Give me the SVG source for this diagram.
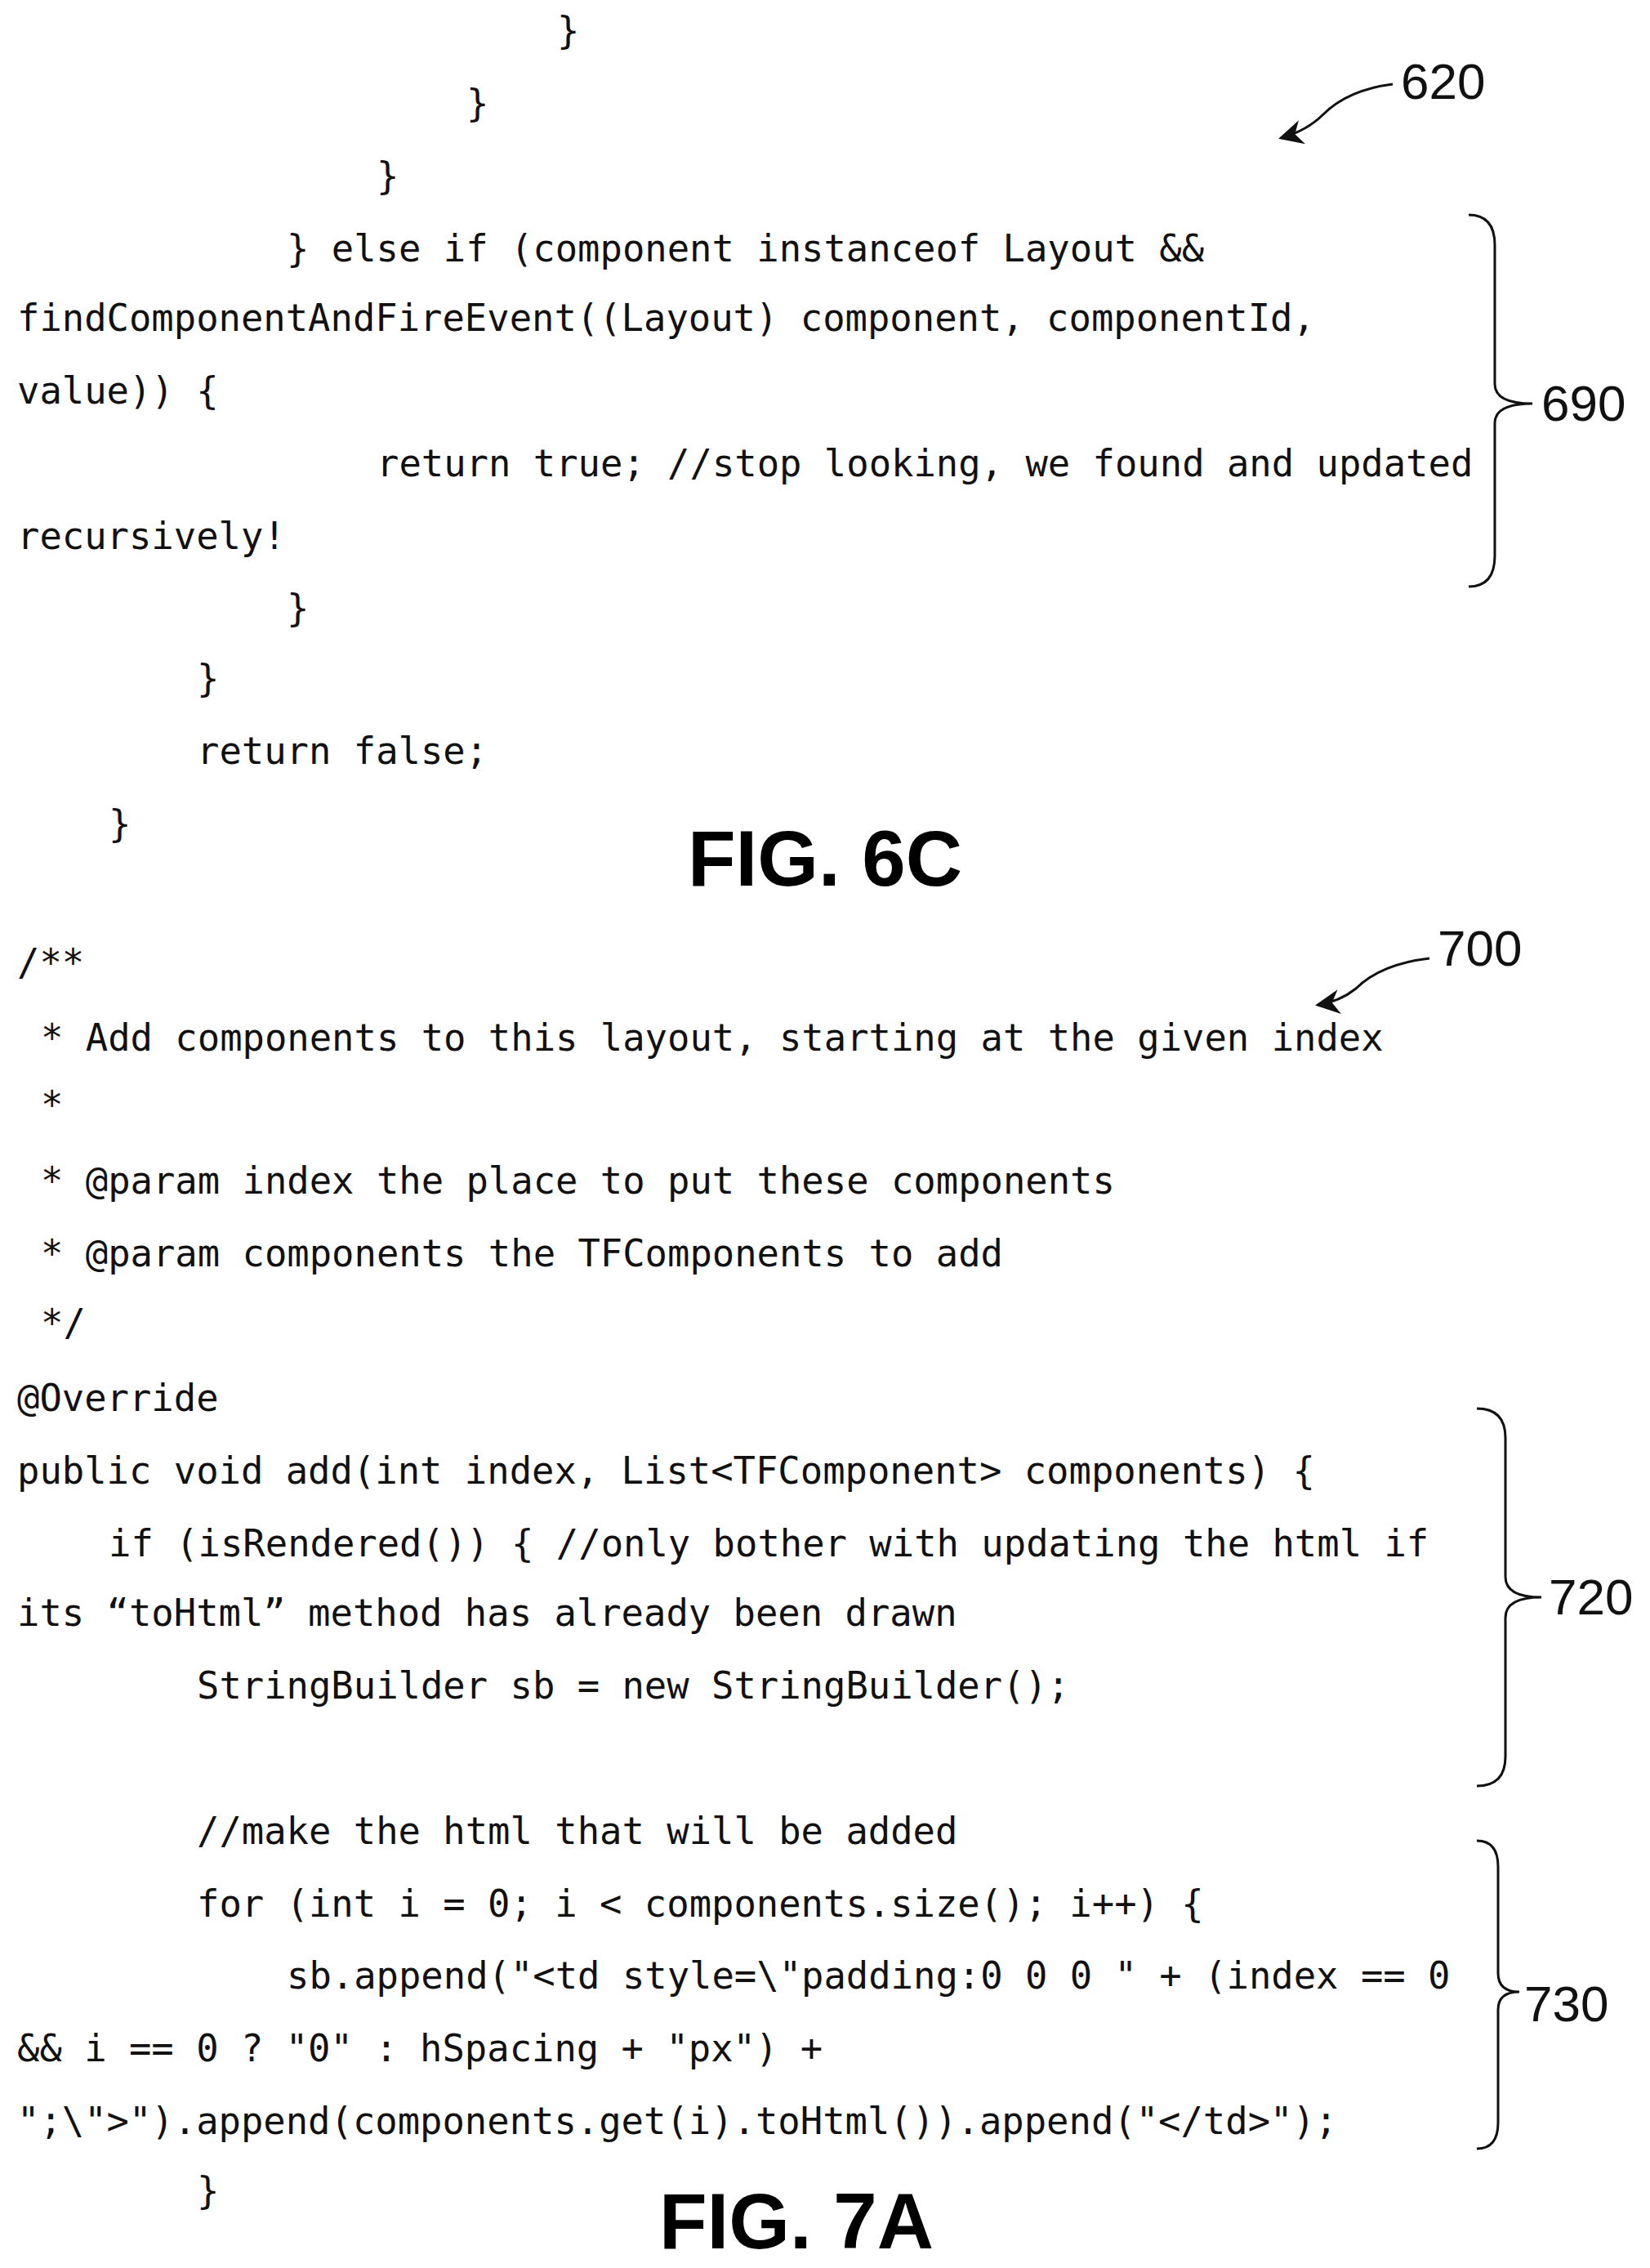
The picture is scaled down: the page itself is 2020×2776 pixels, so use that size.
<svg xmlns="http://www.w3.org/2000/svg" width="2020" height="2776" viewBox="0 0 2020 2776">
<style>
.c{font-family:"DejaVu Sans Mono","Liberation Mono",monospace;font-size:45.5px;fill:#111}
.f{font-family:"Liberation Sans",Arial,sans-serif;font-weight:bold;font-size:96px;fill:#000;text-anchor:middle}
.l{font-family:"Liberation Sans",Arial,sans-serif;font-size:62px;fill:#111}
.b{fill:none;stroke:#111;stroke-width:3}
</style>
<defs>
<marker id="ah2" viewBox="0 0 10 10" refX="9" refY="5" markerWidth="40" markerHeight="30" orient="auto" markerUnits="userSpaceOnUse"><path d="M0,0 L10,5 L0,10 L3,5 z" fill="#111"/></marker></defs>
<rect width="2020" height="2776" fill="#fff"/>
<g id="code6c">
<text class="c" x="682" y="53">}</text>
<text class="c" x="571" y="142">}</text>
<text class="c" x="461" y="231">}</text>
<text class="c" x="351" y="320">} else if (component instanceof Layout &amp;&amp;</text>
<text class="c" x="21" y="405">findComponentAndFireEvent((Layout) component, componentId,</text>
<text class="c" x="21" y="494">value)) {</text>
<text class="c" x="461" y="583">return true; //stop looking, we found and updated</text>
<text class="c" x="21" y="672">recursively!</text>
<text class="c" x="351" y="760">}</text>
<text class="c" x="241" y="846">}</text>
<text class="c" x="241" y="935">return false;</text>
<text class="c" x="133" y="1024">}</text>
<text class="f" x="1010" y="1084">FIG. 6C</text>
</g>
<g id="code7a">
<text class="c" x="21" y="1194">/**</text>
<text class="c" x="50" y="1286">* Add components to this layout, starting at the given index</text>
<text class="c" x="50" y="1368">*</text>
<text class="c" x="50" y="1461">* @param index the place to put these components</text>
<text class="c" x="50" y="1550">* @param components the TFComponents to add</text>
<text class="c" x="50" y="1635">*/</text>
<text class="c" x="21" y="1727">@Override</text>
<text class="c" x="21" y="1816">public void add(int index, List&lt;TFComponent&gt; components) {</text>
<text class="c" x="133" y="1905">if (isRendered()) { //only bother with updating the html if</text>
<text class="c" x="21" y="1990">its “toHtml” method has already been drawn</text>
<text class="c" x="241" y="2079">StringBuilder sb = new StringBuilder();</text>
<text class="c" x="241" y="2257">//make the html that will be added</text>
<text class="c" x="241" y="2346">for (int i = 0; i &lt; components.size(); i++) {</text>
<text class="c" x="351" y="2434">sb.append("&lt;td style=\"padding:0 0 0 " + (index == 0</text>
<text class="c" x="21" y="2523">&amp;&amp; i == 0 ? "0" : hSpacing + "px") +</text>
<text class="c" x="21" y="2612">";\"&gt;").append(components.get(i).toHtml()).append("&lt;/td&gt;");</text>
<text class="c" x="241" y="2697">}</text>
<text class="f" x="975" y="2752">FIG. 7A</text>
</g>
<g id="ref620"><text class="l" x="1715" y="121">620</text></g>
<g id="ref690"><text class="l" x="1887" y="515">690</text></g>
<g id="ref700"><text class="l" x="1760" y="1182">700</text></g>
<g id="ref720"><text class="l" x="1896" y="1976">720</text></g>
<g id="ref730"><text class="l" x="1866" y="2474">730</text></g>
<g id="connectors">
<path class="b" d="M1705,103 Q1650,110 1620,140 Q1600,160 1568,169" marker-end="url(#ah2)"/>
<path class="b" d="M1750,1173 Q1690,1180 1660,1210 Q1640,1226 1613,1230" marker-end="url(#ah2)"/>
<path class="b" d="M1798,263 Q1830,263 1830,300 L1830,470 Q1830,494 1876,494 Q1830,494 1830,518 L1830,680 Q1830,718 1798,718"/>
<path class="b" d="M1808,1724 Q1843,1724 1843,1760 L1843,1930 Q1843,1955 1887,1955 Q1843,1955 1843,1980 L1843,2150 Q1843,2186 1808,2186"/>
<path class="b" d="M1808,2253 Q1834,2253 1834,2285 L1834,2415 Q1834,2438 1860,2438 Q1834,2438 1834,2460 L1834,2598 Q1834,2630 1808,2630"/>
</g>
</svg>
